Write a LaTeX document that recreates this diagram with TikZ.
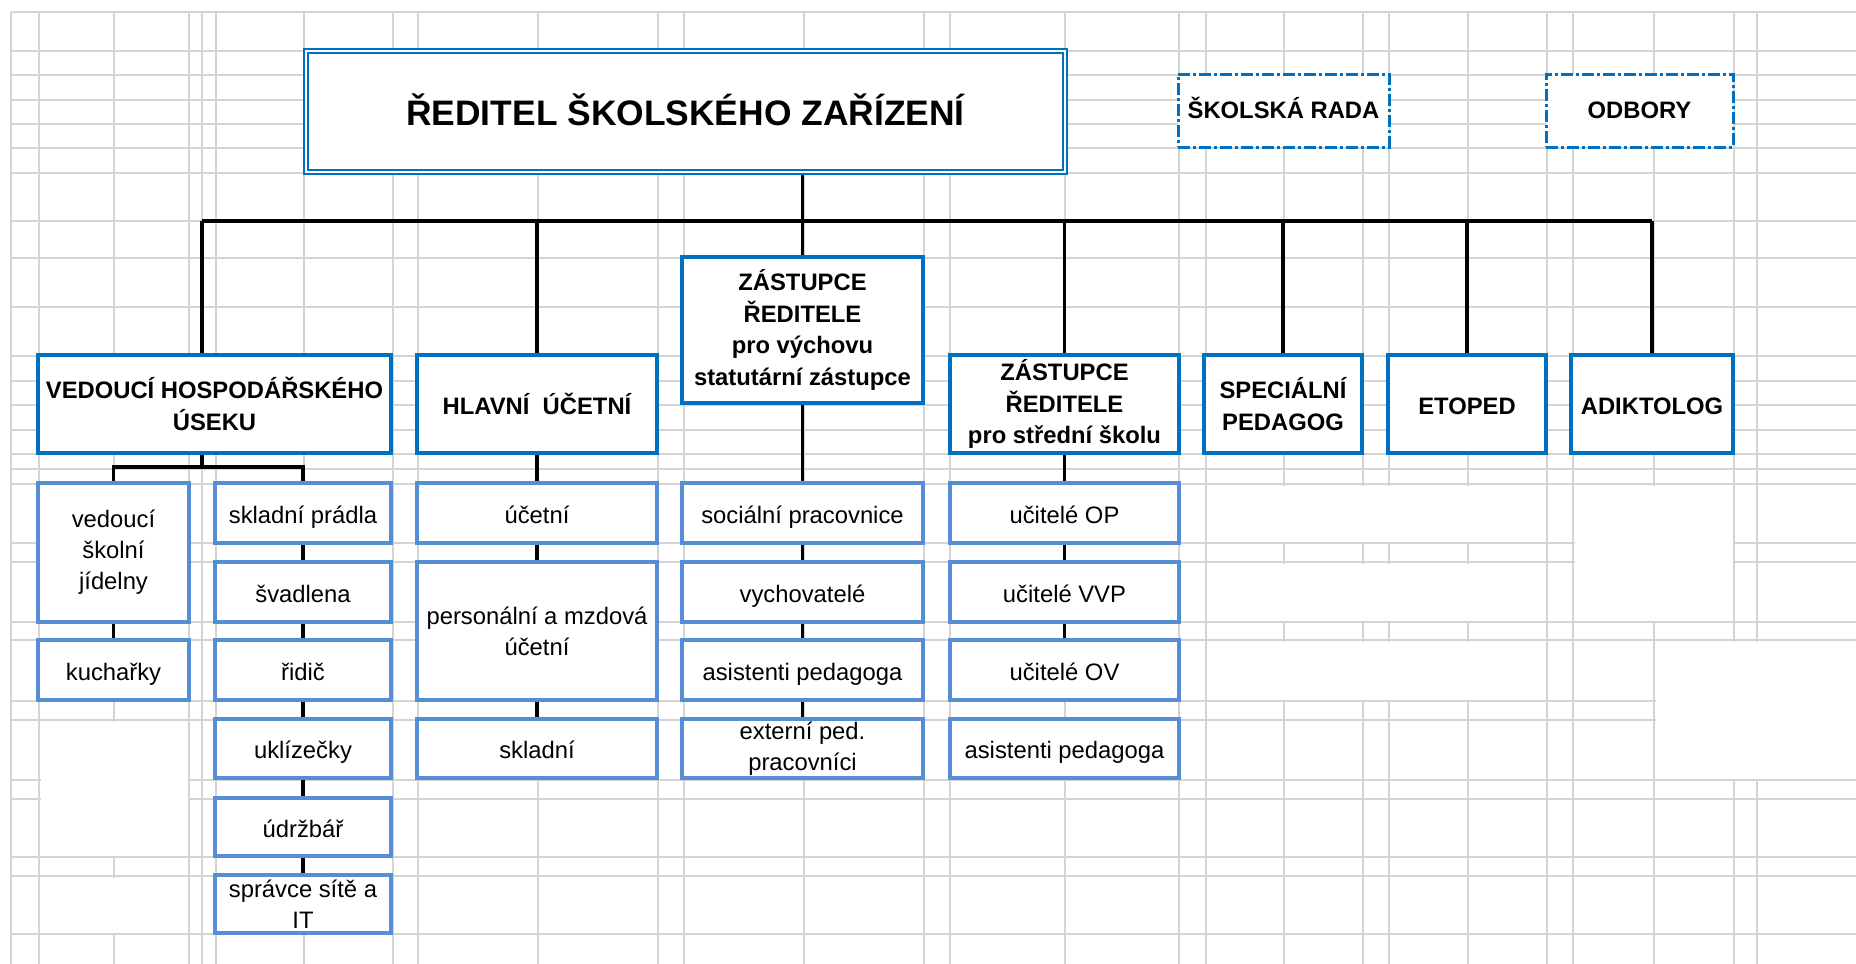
\documentclass[tikz,border=0pt]{standalone}
\usepackage{fontspec}
\setmainfont{Liberation Sans}
\usetikzlibrary{backgrounds}
\definecolor{bluea}{RGB}{0,112,192}
\definecolor{blueb}{RGB}{85,142,213}
\definecolor{gridc}{RGB}{212,212,212}
\tikzset{
  gridl/.style={draw=gridc, line width=1.4pt},
  lvla/.style={draw=bluea, line width=3.5pt, fill=white, inner sep=0pt, align=center,
    font=\bfseries\fontsize{23.8}{31.5}\selectfont},
  lvlb/.style={draw=blueb, line width=3.5pt, fill=white, inner sep=0pt, align=center,
    font=\fontsize{23.8}{31}\selectfont},
  oneline/.style={text height=22pt, text depth=2pt},
  dashbox/.style={draw=bluea, line width=3pt, dash pattern=on 12pt off 3pt on 3pt off 3pt,
    fill=white, inner sep=0pt, font=\bfseries\fontsize{23.8}{31.5}\selectfont,
    text height=19pt, text depth=4pt},
  titlebox/.style={draw=bluea, double=white, double distance=2.5pt, line width=1.5pt,
    fill=white, inner sep=0pt, font=\bfseries\fontsize{35.4}{40}\selectfont,
    text height=31pt, text depth=4pt},
  conn/.style={line width=3.6pt, black},
}
\begin{document}
\begin{tikzpicture}[x=1pt,y=-1pt]
\useasboundingbox (0,0) rectangle (1856,964);

% ---- top
\node[titlebox, minimum width=759, minimum height=121] (title) at (685.5,111.5) {ŘEDITEL ŠKOLSKÉHO ZAŘÍZENÍ};
\node[dashbox, minimum width=211, minimum height=73] (rada) at (1283.5,110.5) {ŠKOLSKÁ RADA};
\node[dashbox, minimum width=187, minimum height=73] (odb) at (1639.5,110.5) {ODBORY};

% ---- level 1
\node[lvla, minimum width=353, minimum height=98] (ved) at (214.5,404) {VEDOUCÍ HOSPODÁŘSKÉHO\\ÚSEKU};
\node[lvla, oneline, minimum width=240, minimum height=98] (hlav) at (537,404) {HLAVNÍ\ \ ÚČETNÍ};
\node[lvla, minimum width=241, minimum height=146] (zvych) at (802.5,330) {ZÁSTUPCE\\ŘEDITELE\\pro výchovu\\statutární zástupce};
\node[lvla, minimum width=229, minimum height=98] (zss) at (1064.5,404) {ZÁSTUPCE\\ŘEDITELE\\pro střední školu};
\node[lvla, minimum width=158, minimum height=98] (spec) at (1283,404) {SPECIÁLNÍ\\PEDAGOG};
\node[lvla, oneline, minimum width=158, minimum height=98] (etop) at (1467,404) {ETOPED};
\node[lvla, oneline, minimum width=162, minimum height=98] (adik) at (1652,404) {ADIKTOLOG};

% ---- level 2, column A
\node[lvlb, minimum width=151, minimum height=139] (jid) at (113.5,552.5) {vedoucí\\školní\\jídelny};
\node[lvlb, oneline, minimum width=151, minimum height=60] (kuch) at (113.5,670) {kuchařky};
% column B
\node[lvlb, oneline, minimum width=176, minimum height=60] (skp) at (303,513) {skladní prádla};
\node[lvlb, oneline, minimum width=176, minimum height=60] (svad) at (303,592) {švadlena};
\node[lvlb, oneline, minimum width=176, minimum height=60] (ridic) at (303,670) {řidič};
\node[lvlb, oneline, minimum width=176, minimum height=59] (ukl) at (303,748.5) {uklízečky};
\node[lvlb, oneline, minimum width=176, minimum height=58] (udrz) at (303,827) {údržbář};
\node[lvlb, minimum width=176, minimum height=58] (sprav) at (303,904) {správce sítě a\\IT};
% column C
\node[lvlb, oneline, minimum width=240, minimum height=60] (uc) at (537,513) {účetní};
\node[lvlb, minimum width=240, minimum height=138] (pers) at (537,631) {personální a mzdová\\účetní};
\node[lvlb, oneline, minimum width=240, minimum height=59] (skl) at (537,748.5) {skladní};
% column D
\node[lvlb, oneline, minimum width=241, minimum height=60] (soc) at (802.5,513) {sociální pracovnice};
\node[lvlb, oneline, minimum width=241, minimum height=60] (vych) at (802.5,592) {vychovatelé};
\node[lvlb, oneline, minimum width=241, minimum height=60] (asd) at (802.5,670) {asistenti pedagoga};
\node[lvlb, minimum width=241, minimum height=59] (ext) at (802.5,748.5) {externí ped.\\pracovníci};
% column E
\node[lvlb, oneline, minimum width=229, minimum height=60] (uop) at (1064.5,513) {učitelé OP};
\node[lvlb, oneline, minimum width=229, minimum height=60] (uvvp) at (1064.5,592) {učitelé VVP};
\node[lvlb, oneline, minimum width=229, minimum height=60] (uov) at (1064.5,670) {učitelé OV};
\node[lvlb, oneline, minimum width=229, minimum height=59] (ase) at (1064.5,748.5) {asistenti pedagoga};

\coordinate (bus) at (0,221);
\coordinate (vedin) at (202,355);
\coordinate (vedout) at (202,453);
\coordinate (vbr) at (202,467);

\begin{pgfonlayer}{background}
  % grid
  \foreach \yy in {12,51,75,100,124,148,173,221,258,307,356,381,405,430,454,469,484,543,562,622,640,701,720,780,799,857,876,934}
    \draw[gridl] (11,\yy) -- (1856,\yy);
  \foreach \xx in {11,39,114,189,202,216,304,393,418,538,658,684,804,924,950,1065,1179,1206,1284,1363,1389,1468,1547,1573,1654,1734,1757}
    \draw[gridl] (\xx,12) -- (\xx,964);
  % merged cells
  \fill[white] (40.5,721.5) rectangle (187.5,855.5);
  \fill[white] (40.5,877.5) rectangle (187.5,932.5);
  \fill[white] (1207.5,485.5) rectangle (1545.5,541.5);
  \fill[white] (1207.5,563.5) rectangle (1545.5,620.5);
  \fill[white] (1207.5,641.5) rectangle (1545.5,699.5);
  \fill[white] (1574.5,485.5) rectangle (1732.5,620.5);
  \fill[white] (1655.5,641.5) rectangle (1856,778.5);
  % connectors
  \draw[conn] (vedin |- bus) -- (adik.north |- bus);
  \draw[conn] (title.south -| zvych.north) -- (zvych.north);
  \draw[conn] (vedin |- bus) -- (vedin);
  \draw[conn] (hlav.north |- bus) -- (hlav.north);
  \draw[conn] (zss.north |- bus) -- (zss.north);
  \draw[conn] (spec.north |- bus) -- (spec.north);
  \draw[conn] (etop.north |- bus) -- (etop.north);
  \draw[conn] (adik.north |- bus) -- (adik.north);
  % column A/B
  \draw[conn] (vedout) -- (vbr);
  \draw[conn] (jid.north) |- (vbr) -| (skp.north);
  \draw[conn] (jid) -- (kuch);
  \draw[conn] (skp) -- (svad);
  \draw[conn] (svad) -- (ridic);
  \draw[conn] (ridic) -- (ukl);
  \draw[conn] (ukl) -- (udrz);
  \draw[conn] (udrz) -- (sprav);
  % column C
  \draw[conn] (hlav) -- (uc);
  \draw[conn] (uc) -- (pers);
  \draw[conn] (pers) -- (skl);
  % column D
  \draw[conn] (zvych) -- (soc);
  \draw[conn] (soc) -- (vych);
  \draw[conn] (vych) -- (asd);
  \draw[conn] (asd) -- (ext);
  % column E
  \draw[conn] (zss) -- (uop);
  \draw[conn] (uop) -- (uvvp);
  \draw[conn] (uvvp) -- (uov);
\end{pgfonlayer}
\end{tikzpicture}
\end{document}
